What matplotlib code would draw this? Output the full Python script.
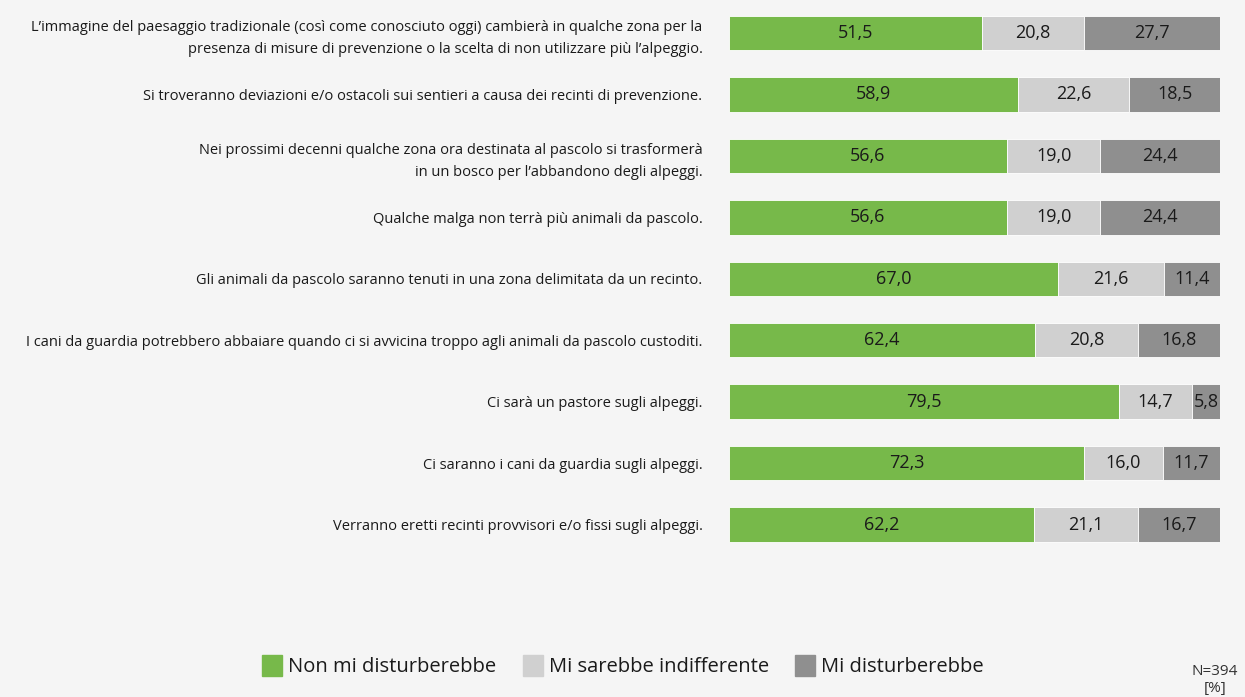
import numpy as np
import matplotlib.pyplot as plt
import matplotlib.patches as mpatches

plt.rcParams['font.family'] = ['Open Sans', 'DejaVu Sans']

# Daten
categories = [
    "L’immagine del paesaggio tradizionale (così come conosciuto oggi) cambierà in qualche zona per la\npresenza di misure di prevenzione o la scelta di non utilizzare più l’alpeggio.",
    "Si troveranno deviazioni e/o ostacoli sui sentieri a causa dei recinti di prevenzione.",
    "Nei prossimi decenni qualche zona ora destinata al pascolo si trasformerà\nin un bosco per l’abbandono degli alpeggi.",
    "Qualche malga non terrà più animali da pascolo.",
    "Gli animali da pascolo saranno tenuti in una zona delimitata da un recinto.",
    "I cani da guardia potrebbero abbaiare quando ci si avvicina troppo agli animali da pascolo custoditi.",
    "Ci sarà un pastore sugli alpeggi.",
    "Ci saranno i cani da guardia sugli alpeggi.",
    "Verranno eretti recinti provvisori e/o fissi sugli alpeggi.",
]
non_disturba = [51.5, 58.9, 56.6, 56.6, 67.0, 62.4, 79.5, 72.3, 62.2]
indifferente = [20.8, 22.6, 19.0, 19.0, 21.6, 20.8, 14.7, 16.0, 21.1]
disturba = [27.7, 18.5, 24.4, 24.4, 11.4, 16.8, 5.8, 11.7, 16.7]
series_names = ["Non mi disturberebbe", "Mi sarebbe indifferente", "Mi disturberebbe"]
colors = ['#77b94a', '#d0d0d0', '#8f8f8f']

bg = '#f5f5f5'
fig = plt.figure(figsize=(12.45, 6.97), dpi=100, facecolor=bg)
ax = fig.add_axes([0.5855, 0.2034, 0.3945, 0.7933], facecolor=bg)

y = np.arange(len(categories))
left = np.zeros(len(categories))
for vals, col, name in zip([non_disturba, indifferente, disturba], colors, series_names):
    vals = np.array(vals)
    ax.barh(y, vals, left=left, height=0.56, color=col, edgecolor='white', linewidth=0.6, label=name)
    for yi, l, v in zip(y, left, vals):
        ax.text(l + v / 2, yi, f"{v:.1f}".replace('.', ','), ha='center', va='center',
                fontsize=13, color='#1a1a1a')
    left += vals

ax.set_xlim(0, 100)
ax.set_ylim(len(categories) - 0.5, -0.5)
ax.set_yticks(y)
ax.set_yticklabels(categories, fontsize=10.5, color='#1a1a1a', ha='right',
                   multialignment='right', linespacing=1.65)
ax.tick_params(axis='y', length=0, pad=19)
ax.set_xticks([])
for s in ax.spines.values():
    s.set_visible(False)

handles = [mpatches.Patch(color=c, label=n) for c, n in zip(colors, series_names)]
fig.legend(handles=handles, loc='center', bbox_to_anchor=(623 / 1245, 1 - 666 / 697), ncol=3,
           frameon=False, fontsize=14.5, handlelength=1.0, handleheight=1.2, handletextpad=0.3,
           columnspacing=1.3, labelcolor='#1a1a1a')

fig.text(1215 / 1245, 1 - 680 / 697, "N=394\n[%]", ha='center', va='center',
         multialignment='center', fontsize=11, color='#333333')

fig.savefig('out.png', dpi=100, facecolor=bg)
